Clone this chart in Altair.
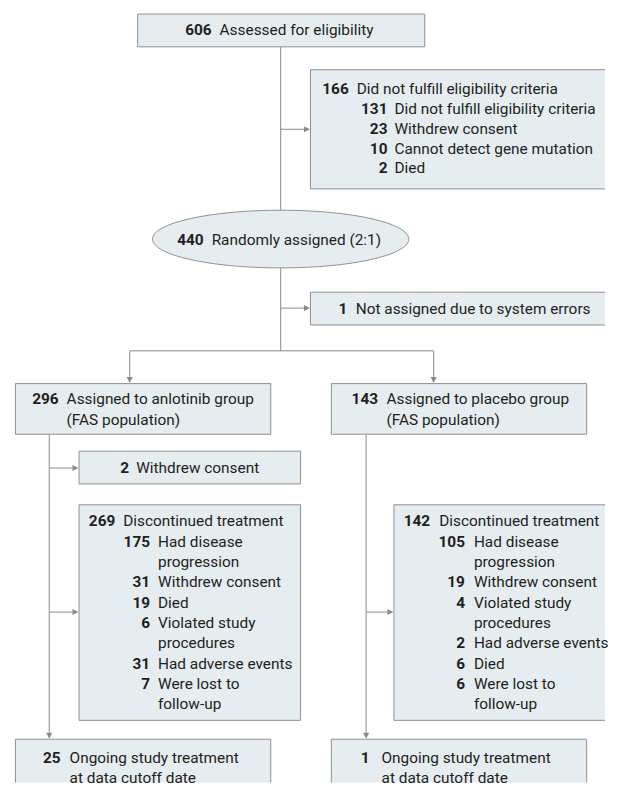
import altair as alt
import pandas as pd

# ---------------- content ----------------
screened_n = [606]
screened_label = ["Assessed for eligibility"]
excluded_n = [166]
excluded_label = ["Did not fulfill eligibility criteria"]
excluded_reason_n = [131, 23, 10, 2]
excluded_reason_label = ["Did not fulfill eligibility criteria", "Withdrew consent",
                         "Cannot detect gene mutation", "Died"]
randomized_n = [440]
randomized_label = ["Randomly assigned (2:1)"]
not_assigned_n = [1]
not_assigned_label = ["Not assigned due to system errors"]
arm_n = [296, 143]
arm_label = [["Assigned to anlotinib group", "(FAS population)"],
             ["Assigned to placebo group", "(FAS population)"]]
withdrew_n = [2]
withdrew_label = ["Withdrew consent"]
disc_n = [269, 142]
disc_label = ["Discontinued treatment"]
anlotinib_reason_n = [175, 31, 19, 6, 31, 7]
anlotinib_reason_label = [["Had disease", "progression"], ["Withdrew consent"], ["Died"],
                          ["Violated study", "procedures"], ["Had adverse events"],
                          ["Were lost to", "follow-up"]]
placebo_reason_n = [105, 19, 4, 2, 6, 6]
placebo_reason_label = [["Had disease", "progression"], ["Withdrew consent"],
                        ["Violated study", "procedures"], ["Had adverse events"], ["Died"],
                        ["Were lost to", "follow-up"]]
ongoing_n = [25, 1]
ongoing_label = [["Ongoing study treatment", "at data cutoff date"],
                 ["Ongoing study treatment", "at data cutoff date"]]

# ---------------- layout / style ----------------
FONT = "Roboto"
FS = 15.5
TEXT = "#231f20"
FILL = "#e6edf1"
EDGE = "#8f8f8f"
LINE = "#8a8a8a"
ROW = 20.5

boxes = pd.DataFrame([
    dict(x=138.5, x2=427.5, y=11.5, y2=44.5),
    dict(x=312.5, x2=640, y=67.5, y2=187.5),
    dict(x=312.5, x2=640, y=291.5, y2=324.5),
    dict(x=15.5, x2=272.5, y=383.5, y2=434.5),
    dict(x=333.5, x2=590.5, y=383.5, y2=434.5),
    dict(x=79.5, x2=302.5, y=451.5, y2=484.5),
    dict(x=79.5, x2=302.5, y=505.5, y2=722.5),
    dict(x=396.5, x2=640, y=505.5, y2=722.5),
    dict(x=15.5, x2=272.5, y=741.5, y2=830),
    dict(x=333.5, x2=590.5, y=741.5, y2=830),
])

segments = pd.DataFrame([
    dict(x=282.5, x2=282.5, y=44, y2=350.5),
    dict(x=282.5, x2=306, y=127.5, y2=127.5),
    dict(x=282.5, x2=306, y=307.5, y2=307.5),
    dict(x=130.5, x2=436.5, y=350.5, y2=350.5),
    dict(x=130.5, x2=130.5, y=350.5, y2=377),
    dict(x=436.5, x2=436.5, y=350.5, y2=377),
    dict(x=49.5, x2=49.5, y=434.5, y2=735),
    dict(x=368.5, x2=368.5, y=434.5, y2=735),
    dict(x=49.5, x2=73, y=468.5, y2=468.5),
    dict(x=49.5, x2=73, y=613.5, y2=613.5),
    dict(x=368.5, x2=390, y=613.5, y2=613.5),
])

right_tips = pd.DataFrame([dict(x=312, y=127.5), dict(x=312, y=307.5), dict(x=79, y=468.5),
                           dict(x=79, y=613.5), dict(x=396, y=613.5)])
down_tips = pd.DataFrame([dict(x=130.5, y=383), dict(x=436.5, y=383),
                          dict(x=49.5, y=741), dict(x=368.5, y=741)])

rows = []


def add(nx, lx, y, n, lines):
    for i, t in enumerate(lines):
        rows.append(dict(nx=nx, lx=lx, y=y + i * ROW, num=str(n) if i == 0 else "", label=t))
    return y + len(lines) * ROW


add(213, 221, 28, screened_n[0], screened_label)
add(351, 359, 87, excluded_n[0], excluded_label)
for i, (n, t) in enumerate(zip(excluded_reason_n, excluded_reason_label)):
    rows.append(dict(nx=390, lx=397, y=107 + 20 * i, num=str(n), label=t))
add(205, 213, 239, randomized_n[0], randomized_label)
add(349.5, 358, 308, not_assigned_n[0], not_assigned_label)
add(59, 67, 399.5, arm_n[0], arm_label[0])
add(380.5, 389, 399.5, arm_n[1], arm_label[1])
add(130, 137, 468.5, withdrew_n[0], withdrew_label)

yy = add(116, 124, 522, disc_n[0], disc_label)
for n, t in zip(anlotinib_reason_n, anlotinib_reason_label):
    yy = add(151, 159, yy, n, t)
yy = add(433, 442, 522, disc_n[1], disc_label)
for n, t in zip(placebo_reason_n, placebo_reason_label):
    yy = add(468, 477, yy, n, t)

add(61, 70, 760, ongoing_n[0], ongoing_label[0])
add(372, 384, 760, ongoing_n[1], ongoing_label[1])
texts = pd.DataFrame(rows)

ellipse = pd.DataFrame([dict(x=282.5, y=238)])

# ---------------- chart ----------------
xs = alt.Scale(domain=[8, 609], nice=False, zero=False)
ys = alt.Scale(domain=[785, 8], nice=False, zero=False)

rules = alt.Chart(segments).mark_rule(color=LINE, strokeWidth=1).encode(
    x=alt.X("x:Q", scale=xs, axis=None), x2="x2:Q",
    y=alt.Y("y:Q", scale=ys, axis=None), y2="y2:Q")

RIGHT_HEAD = "M 0 0 L -1 -0.5 L -1 0.5 Z"
DOWN_HEAD = "M 0 0 L -0.5 -1 L 0.5 -1 Z"
heads_r = alt.Chart(right_tips).mark_point(shape=RIGHT_HEAD, filled=True, opacity=1,
                                           color=LINE, size=150, strokeWidth=0).encode(
    x=alt.X("x:Q", scale=xs, axis=None), y=alt.Y("y:Q", scale=ys, axis=None))
heads_d = alt.Chart(down_tips).mark_point(shape=DOWN_HEAD, filled=True, opacity=1,
                                          color=LINE, size=150, strokeWidth=0).encode(
    x=alt.X("x:Q", scale=xs, axis=None), y=alt.Y("y:Q", scale=ys, axis=None))

rects = alt.Chart(boxes).mark_rect(fill=FILL, stroke=EDGE, strokeWidth=1, clip=True).encode(
    x=alt.X("x:Q", scale=xs, axis=None), x2="x2:Q",
    y=alt.Y("y:Q", scale=ys, axis=None), y2="y2:Q")

ry = 0.225
k = 0.5523
ELLIPSE = (f"M -1 0 C -1 {-k*ry} {-k} {-ry} 0 {-ry} C {k} {-ry} 1 {-k*ry} 1 0 "
           f"C 1 {k*ry} {k} {ry} 0 {ry} C {-k} {ry} -1 {k*ry} -1 0 Z")
oval = alt.Chart(ellipse).mark_point(shape=ELLIPSE, filled=True, opacity=1, fill=FILL,
                                     stroke=EDGE, strokeWidth=1, size=258 * 258).encode(
    x=alt.X("x:Q", scale=xs, axis=None), y=alt.Y("y:Q", scale=ys, axis=None))

nums = alt.Chart(texts).mark_text(align="right", baseline="middle", font=FONT, fontSize=FS,
                                  fontWeight="bold", color=TEXT).encode(
    x=alt.X("nx:Q", scale=xs, axis=None), y=alt.Y("y:Q", scale=ys, axis=None), text="num:N")
labels = alt.Chart(texts).mark_text(align="left", baseline="middle", font=FONT, fontSize=FS,
                                    color=TEXT).encode(
    x=alt.X("lx:Q", scale=xs, axis=None), y=alt.Y("y:Q", scale=ys, axis=None), text="label:N")

chart = alt.layer(rules, heads_r, heads_d, rects, oval, nums, labels).properties(
    width=601, height=777
).configure_view(stroke=None).properties(padding=0, background="white")

chart.save("out.html", embed_options={"renderer": "svg", "actions": False})
